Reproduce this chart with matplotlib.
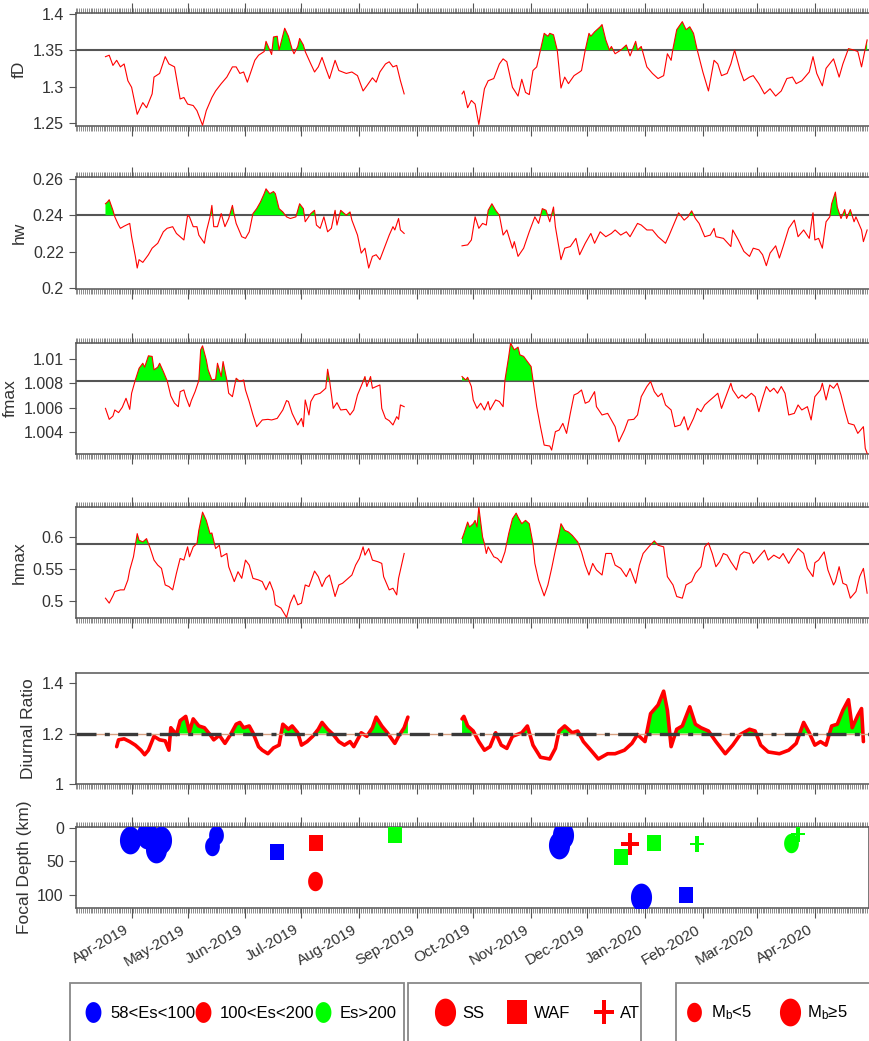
import numpy as np
import matplotlib
matplotlib.use('Agg')
import matplotlib.pyplot as plt
import matplotlib.dates as mdates
from matplotlib.path import Path
from matplotlib.lines import Line2D
from matplotlib.patches import Rectangle
from matplotlib.ticker import FuncFormatter

plt.rcParams['font.family'] = ['Liberation Sans', 'DejaVu Sans']
plt.rcParams['mathtext.default'] = 'regular'

# ---- data: days counted from 2019-04-01 ----
fd_d1 = [-14,-12,-10,-8,-6,-4,-2,0,3,6,8,11,12,15,18,20,23,26,28,30,33,35,38,40,43,45,48,51,54,56,58,60,62,66,68,71,72,74,
         75,76,78,79,82,84,86,87,89,90,92,93,96,98,100,102,104,106,109,111,115,118,121,124,126,129,131,133,136,138,140,142,144,146]
fd_v1 = [1.341,1.343,1.329,1.336,1.327,1.331,1.308,1.299,1.262,1.278,1.271,1.290,1.313,1.318,1.341,1.331,1.327,1.283,
         1.285,1.276,1.274,1.267,1.247,1.267,1.285,1.294,1.304,1.313,1.327,1.327,1.318,1.320,1.306,1.336,1.343,1.348,1.362,1.350,
         1.344,1.368,1.369,1.350,1.380,1.369,1.351,1.345,1.355,1.366,1.357,1.348,1.331,1.320,1.327,1.340,1.325,1.311,1.336,1.322,
         1.318,1.320,1.315,1.294,1.301,1.312,1.306,1.320,1.331,1.334,1.327,1.329,1.308,1.290]
fd_d2 = [177,178,180,182,184,186,189,191,194,197,199,201,204,207,209,211,213,215,217,219,221,223,224,226,228,230,232,234,237,240,
         241,243,245,246,248,251,252,254,256,257,259,262,265,267,270,271,273,276,279,282,285,287,289,290,292,295,297,299,301,303,
         306,309,312,314,316,319,321,323,326,328,331,333,336,339,342,345,348,351,354,356,359,363,365,367,370,372,376,379,381,384,
         387,389,391,393,394]
fd_v2 = [1.290,1.294,1.271,1.281,1.276,1.248,1.297,1.308,1.311,1.331,1.338,1.334,1.299,1.287,1.310,1.292,1.289,1.322,1.327,1.350,
         1.373,1.369,1.373,1.371,1.350,1.298,1.313,1.304,1.315,1.320,1.322,1.350,1.373,1.369,1.375,1.382,1.385,1.364,1.350,1.355,
         1.345,1.350,1.357,1.342,1.362,1.350,1.355,1.327,1.318,1.311,1.315,1.345,1.336,1.352,1.378,1.389,1.378,1.382,1.373,1.350,
         1.320,1.294,1.336,1.331,1.315,1.318,1.331,1.350,1.322,1.308,1.313,1.315,1.304,1.290,1.297,1.287,1.294,1.311,1.313,1.304,
         1.308,1.320,1.341,1.318,1.301,1.325,1.338,1.313,1.331,1.352,1.350,1.348,1.327,1.352,1.364]

hw_d1 = [-14,-13,-12,-10,-9,-7,-6,-4,-1,0,2,3,4,6,9,11,14,17,19,22,24,27,28,30,31,33,35,36,39,40,42,43,44,46,48,50,52,54,55,56,
         59,61,63,65,67,69,71,72,74,76,77,79,81,83,85,88,90,92,93,96,98,99,101,103,105,107,109,110,112,115,117,118,121,123,125,
         127,129,131,133,135,138,140,141,143,144,146]
hw_v1 = [0.2463,0.2472,0.2485,0.2427,0.2391,0.2346,0.2328,0.2340,0.2355,0.2282,0.2174,0.2110,0.2156,0.2141,0.2183,0.2219,0.2246,
         0.2309,0.2328,0.2337,0.2300,0.2273,0.2264,0.2400,0.2391,0.2337,0.2337,0.2291,0.2246,0.2309,0.2391,0.2454,0.2337,0.2337,
         0.2409,0.2337,0.2382,0.2454,0.2400,0.2355,0.2282,0.2273,0.2309,0.2409,0.2436,0.2472,0.2518,0.2545,0.2518,0.2530,0.2518,
         0.2436,0.2418,0.2391,0.2382,0.2391,0.2463,0.2436,0.2364,0.2409,0.2427,0.2346,0.2328,0.2391,0.2309,0.2328,0.2427,0.2346,
         0.2427,0.2400,0.2418,0.2373,0.2291,0.2192,0.2219,0.2110,0.2174,0.2183,0.2156,0.2210,0.2291,0.2337,0.2319,0.2382,0.2319,0.2300]
hw_d2 = [177,180,182,184,186,188,190,191,193,195,197,199,201,204,205,207,210,213,216,218,220,222,224,226,227,230,232,235,238,240,
         243,246,248,251,254,257,259,262,265,267,271,273,276,279,282,286,288,291,293,296,298,300,302,304,307,310,312,313,317,321,
         322,325,328,331,333,336,338,340,342,345,347,349,352,355,357,360,363,365,366,368,370,372,374,375,377,378,380,382,383,385,
         387,388,391,392,394]
hw_v2 = [0.2232,0.2237,0.2264,0.2391,0.2328,0.2355,0.2346,0.2427,0.2463,0.2427,0.2400,0.2291,0.2319,0.2219,0.2255,0.2174,0.2219,
         0.2309,0.2391,0.2355,0.2436,0.2427,0.2364,0.2445,0.2337,0.2156,0.2219,0.2228,0.2273,0.2183,0.2246,0.2300,0.2246,0.2309,
         0.2282,0.2300,0.2319,0.2291,0.2309,0.2282,0.2355,0.2346,0.2319,0.2319,0.2282,0.2246,0.2291,0.2364,0.2413,0.2373,0.2391,
         0.2424,0.2382,0.2355,0.2282,0.2291,0.2328,0.2282,0.2273,0.2228,0.2319,0.2264,0.2201,0.2174,0.2219,0.2210,0.2183,0.2123,
         0.2192,0.2232,0.2165,0.2228,0.2328,0.2373,0.2282,0.2319,0.2273,0.2413,0.2264,0.2273,0.2219,0.2364,0.2391,0.2463,0.2527,
         0.2445,0.2382,0.2431,0.2382,0.2431,0.2364,0.2391,0.2319,0.2255,0.2319]

fm_d1 = [-14,-12,-10,-9,-7,-5,-3,-1,0,2,4,6,7,9,11,12,14,15,17,19,21,23,25,26,28,29,31,32,34,36,37,38,40,41,43,45,46,48,49,51,
         52,54,56,58,60,61,63,65,67,70,73,75,78,81,83,84,86,89,91,92,93,95,96,98,101,103,104,105,106,108,110,112,115,117,119,121,
         124,125,126,128,129,131,133,134,136,138,140,142,143,144,146]
fm_v1 = [1.00594,1.00504,1.00531,1.00581,1.00559,1.00603,1.00677,1.00586,1.00718,1.00827,1.00923,1.00964,1.00932,1.01025,1.01020,
         1.00910,1.00932,1.00964,1.00896,1.00822,1.00696,1.00636,1.00608,1.00731,1.00745,1.00690,1.00608,1.00658,1.00731,1.00822,
         1.01074,1.01107,1.00992,1.00910,1.00827,1.00833,1.00964,1.00855,1.00978,1.00827,1.00718,1.00690,1.00841,1.00814,1.00827,
         1.00745,1.00649,1.00540,1.00444,1.00499,1.00504,1.00499,1.00512,1.00581,1.00658,1.00650,1.00553,1.00458,1.00512,1.00444,
         1.00663,1.00540,1.00650,1.00704,1.00718,1.00745,1.00759,1.00915,1.00827,1.00594,1.00641,1.00581,1.00586,1.00540,1.00581,
         1.00704,1.00814,1.00855,1.00773,1.00855,1.00759,1.00773,1.00786,1.00594,1.00512,1.00493,1.00458,1.00526,1.00504,1.00622,1.00608]
fm_d2 = [177,179,180,182,183,185,187,189,191,192,195,197,199,200,202,203,205,207,208,210,212,214,215,217,219,221,224,225,227,229,
         231,233,235,237,239,241,243,245,248,249,252,255,257,259,261,264,266,269,271,273,276,278,280,282,284,286,289,291,294,296,
         298,301,303,305,307,309,312,314,316,319,321,322,325,327,329,332,334,336,338,340,342,344,346,348,350,352,355,357,359,362,
         364,366,369,370,372,374,376,378,380,382,384,387,389,392,393,394]
fm_v2 = [1.00855,1.00827,1.00849,1.00773,1.00663,1.00594,1.00636,1.00581,1.00650,1.00581,1.00663,1.00650,1.00608,1.00827,1.01019,
         1.01129,1.01074,1.01096,1.01033,1.01020,1.00978,1.00937,1.00827,1.00608,1.00444,1.00293,1.00285,1.00252,1.00403,1.00416,
         1.00471,1.00389,1.00553,1.00704,1.00718,1.00745,1.00636,1.00650,1.00731,1.00608,1.00540,1.00553,1.00499,1.00444,1.00320,
         1.00416,1.00499,1.00504,1.00540,1.00690,1.00773,1.00814,1.00731,1.00690,1.00718,1.00622,1.00581,1.00444,1.00458,1.00526,
         1.00416,1.00512,1.00594,1.00567,1.00622,1.00650,1.00690,1.00718,1.00594,1.00718,1.00800,1.00745,1.00677,1.00704,1.00677,
         1.00718,1.00690,1.00567,1.00677,1.00773,1.00731,1.00759,1.00718,1.00773,1.00718,1.00540,1.00553,1.00622,1.00581,1.00608,
         1.00499,1.00690,1.00745,1.00800,1.00663,1.00786,1.00759,1.00800,1.00704,1.00581,1.00471,1.00458,1.00389,1.00444,1.00266,1.00225]

hm_d1 = [-14,-12,-10,-9,-6,-4,-2,-1,1,3,4,6,8,10,12,14,16,18,20,22,24,26,28,30,31,33,35,36,38,40,42,43,45,47,48,51,52,55,57,59,
         61,63,65,68,70,72,74,76,77,80,83,85,87,89,91,93,95,98,100,102,104,106,109,111,113,116,118,120,122,124,125,127,129,132,
         134,135,138,140,142,143,146]
hm_v1 = [0.5051,0.4975,0.5087,0.5153,0.5179,0.5179,0.5332,0.5485,0.5689,0.6046,0.5944,0.5918,0.5969,0.5816,0.5638,0.5561,0.5510,
         0.5255,0.5230,0.5179,0.5434,0.5663,0.5638,0.5842,0.5689,0.5842,0.5893,0.6097,0.6377,0.6250,0.6046,0.6056,0.5816,0.5867,
         0.5689,0.5740,0.5536,0.5306,0.5459,0.5357,0.5638,0.5561,0.5357,0.5332,0.5306,0.5179,0.5306,0.5153,0.4949,0.4898,0.4755,
         0.4975,0.5102,0.4949,0.4975,0.5255,0.5230,0.5469,0.5383,0.5230,0.5357,0.5408,0.5077,0.5255,0.5281,0.5357,0.5408,0.5561,
         0.5663,0.5842,0.5714,0.5816,0.5638,0.5612,0.5587,0.5383,0.5179,0.5204,0.5102,0.5357,0.5740]
hm_d2 = [177,178,180,181,183,184,185,186,188,189,190,191,194,196,198,200,202,204,206,207,209,211,213,215,216,218,221,223,225,227,
         229,230,232,234,236,239,241,243,245,247,249,252,254,257,259,262,265,267,270,272,274,277,280,282,285,287,290,292,295,297,
         300,302,305,307,309,311,313,315,317,319,321,324,326,328,331,333,336,339,341,344,347,349,352,354,357,360,362,365,366,368,
         371,373,376,377,379,381,383,385,388,390,392,394]
hm_v2 = [0.5969,0.6046,0.6224,0.6148,0.6199,0.6250,0.6148,0.6454,0.5995,0.5893,0.5740,0.5842,0.5689,0.5663,0.5597,0.5765,0.6046,
         0.6275,0.6362,0.6301,0.6199,0.6250,0.6199,0.5893,0.5587,0.5332,0.5087,0.5255,0.5510,0.5791,0.6046,0.6199,0.6097,0.6071,
         0.6020,0.5918,0.5765,0.5561,0.5408,0.5587,0.5485,0.5408,0.5740,0.5740,0.5561,0.5510,0.5383,0.5510,0.5281,0.5561,0.5740,
         0.5842,0.5934,0.5867,0.5842,0.5383,0.5255,0.5077,0.5051,0.5255,0.5306,0.5434,0.5536,0.5842,0.5903,0.5740,0.5536,0.5612,
         0.5740,0.5714,0.5612,0.5485,0.5714,0.5765,0.5740,0.5587,0.5689,0.5791,0.5638,0.5714,0.5663,0.5740,0.5587,0.5689,0.5816,
         0.5740,0.5510,0.5383,0.5597,0.5638,0.5765,0.5485,0.5255,0.5306,0.5536,0.5281,0.5255,0.5051,0.5153,0.5383,0.5510,0.5128]

dr_d1 = [-8,-7,-4,-1,2,5,7,9,12,15,18,20,21,24,26,29,31,33,36,39,42,44,47,50,53,56,58,60,63,65,68,70,73,76,79,81,84,86,89,91,
         94,97,100,102,105,108,111,114,117,119,123,126,129,131,134,137,141,143,146,148]
dr_v1 = [1.148,1.175,1.179,1.168,1.154,1.134,1.116,1.134,1.189,1.175,1.171,1.134,1.223,1.196,1.251,1.268,1.207,1.258,1.230,1.223,
         1.196,1.175,1.193,1.161,1.196,1.237,1.244,1.223,1.230,1.203,1.148,1.134,1.120,1.143,1.154,1.237,1.217,1.230,1.203,1.154,
         1.168,1.189,1.217,1.244,1.217,1.196,1.168,1.154,1.168,1.148,1.203,1.189,1.223,1.265,1.230,1.203,1.161,1.189,1.223,1.265]
dr_d2 = [177,178,180,183,186,189,192,195,198,201,204,209,212,215,219,224,227,229,232,236,239,242,246,250,255,259,264,268,271,275,
         278,282,285,287,289,292,295,299,302,305,309,313,318,322,326,331,334,337,341,347,352,356,360,363,366,369,372,375,378,381,
         384,386,389,391,392]
dr_v2 = [1.258,1.268,1.230,1.210,1.168,1.134,1.148,1.203,1.154,1.141,1.189,1.203,1.230,1.154,1.106,1.099,1.141,1.210,1.230,1.203,
         1.210,1.168,1.134,1.099,1.120,1.120,1.134,1.161,1.196,1.168,1.279,1.313,1.368,1.292,1.148,1.217,1.230,1.306,1.237,1.223,
         1.210,1.168,1.120,1.154,1.196,1.217,1.210,1.154,1.127,1.120,1.134,1.161,1.244,1.203,1.154,1.168,1.154,1.230,1.237,1.292,
         1.334,1.223,1.272,1.299,1.168]

# earthquakes
ev_dates = ['2019-03-31','2019-04-09','2019-04-14','2019-04-17','2019-05-14','2019-05-16','2019-06-18','2019-07-08',
            '2019-07-09','2019-08-20','2019-11-16','2019-11-18','2019-12-19','2019-12-24','2019-12-30','2020-01-06',
            '2020-01-23','2020-01-29','2020-03-19','2020-03-23']
ev_depth = [18, 10, 31, 18, 27, 10, 35, 80, 22, 10, 25, 10, 43, 23, 104, 22, 100, 24, 22, 8]
ev_es = ['58-100','58-100','58-100','58-100','58-100','58-100','58-100','100-200','100-200','>200','58-100','58-100',
         '>200','100-200','58-100','>200','58-100','>200','>200','>200']
ev_type = ['SS','SS','SS','SS','SS','SS','WAF','SS','WAF','WAF','SS','SS','WAF','AT','SS','WAF','WAF','AT','SS','AT']
ev_mb5 = [True, True, True, True, False, False, False, False, False, False, True, True, False, True, True, False,
          False, False, False, False]

thresholds = {'fD': 1.35, 'hw': 0.24, 'fmax': 1.00822, 'hmax': 0.589, 'dr': 1.2}

RED, GREEN, BLUE = '#ff0000', '#00ff00', '#0000ff'
es_color = {'58-100': BLUE, '100-200': RED, '>200': GREEN}

base = np.datetime64('2019-04-01')


def to_x(days):
    return mdates.date2num(base + np.array(days).astype('timedelta64[D]'))


# markers, slightly taller than wide like the original
t = np.linspace(0, 2 * np.pi, 64)
oval = Path(np.column_stack([0.76 * np.cos(t), np.sin(t)]), closed=True)
square = Path([(-0.88, -1), (0.88, -1), (0.88, 1), (-0.88, 1), (-0.88, -1)], closed=True)
a, th, tv = 0.85, 0.2, 0.19
plus = Path([(-th, 1), (th, 1), (th, tv), (a, tv), (a, -tv), (th, -tv), (th, -1), (-th, -1),
             (-th, -tv), (-a, -tv), (-a, tv), (-th, tv), (-th, 1)], closed=True)
shape = {'SS': oval, 'WAF': square, 'AT': plus}
shape_scale = {'SS': 1.0, 'WAF': 0.85, 'AT': 0.8}

W, H = 869, 1041
fig = plt.figure(figsize=(W / 100, H / 100), dpi=100)

L, Wd = 0.087, 0.913
ax1 = fig.add_axes([L, 0.879, Wd, 0.1086])
ax2 = fig.add_axes([L, 0.7224, Wd, 0.1076])
ax3 = fig.add_axes([L, 0.5639, Wd, 0.1066])
ax4 = fig.add_axes([L, 0.4063, Wd, 0.1066])
ax5 = fig.add_axes([L, 0.2469, Wd, 0.1066])
ax6 = fig.add_axes([L, 0.1278, Wd, 0.0778])

xlim = mdates.date2num(np.array(['2019-03-02', '2020-04-30'], dtype='datetime64[D]'))
fmt_g = FuncFormatter(lambda v, p: '%g' % round(v, 6))


def style_axis(ax, top_ticks=True, labels=False):
    ax.set_xlim(xlim)
    ax.xaxis.set_major_locator(mdates.MonthLocator())
    ax.xaxis.set_minor_locator(mdates.DayLocator())
    ax.xaxis.set_major_formatter(mdates.DateFormatter('%b-%Y'))
    ax.tick_params(axis='x', which='major', direction='out', length=7, width=0.8, color='#555',
                   top=top_ticks, bottom=True, labelbottom=labels, labelsize=11)
    ax.tick_params(axis='x', which='minor', direction='out', length=3.5, width=0.6, color='#777',
                   top=top_ticks, bottom=True)
    ax.tick_params(axis='y', direction='out', length=5, width=0.8, color='#555', labelsize=11.5,
                   labelcolor='#333')
    ax.yaxis.set_major_formatter(fmt_g)
    for s in ax.spines.values():
        s.set_color('#555')
        s.set_linewidth(1.1)
    ax.spines['right'].set_visible(False)


def draw_series(ax, segs, thr, lw):
    ax.axhline(thr, color='#555', lw=1.5, zorder=1)
    for d, v in segs:
        x = to_x(d)
        y = np.array(v)
        ax.fill_between(x, y, thr, where=y > thr, interpolate=True, color=GREEN, lw=0, zorder=2)
        ax.plot(x, y, color=RED, lw=lw, zorder=3)


panels = [
    (ax1, 'fD', [(fd_d1, fd_v1), (fd_d2, fd_v2)], thresholds['fD'], (1.246, 1.401), [1.25, 1.3, 1.35, 1.4]),
    (ax2, 'hw', [(hw_d1, hw_v1), (hw_d2, hw_v2)], thresholds['hw'], (0.1995, 0.261), [0.2, 0.22, 0.24, 0.26]),
    (ax3, 'fmax', [(fm_d1, fm_v1), (fm_d2, fm_v2)], thresholds['fmax'], (1.0022, 1.0113), [1.004, 1.006, 1.008, 1.01]),
    (ax4, 'hmax', [(hm_d1, hm_v1), (hm_d2, hm_v2)], thresholds['hmax'], (0.4745, 0.6455), [0.5, 0.55, 0.6]),
]
for ax, lab, segs, thr, yl, yt in panels:
    draw_series(ax, segs, thr, 0.8)
    ax.set_ylim(yl)
    ax.set_yticks(yt)
    ax.set_ylabel(lab, fontsize=12.5, color='#333')
    style_axis(ax)

# diurnal ratio
for d, v in [(dr_d1, dr_v1), (dr_d2, dr_v2)]:
    x = to_x(d)
    y = np.array(v)
    ax5.fill_between(x, y, thresholds['dr'], where=y > thresholds['dr'], interpolate=True, color=GREEN, lw=0, zorder=2)
    ax5.plot(x, y, color=RED, lw=2.6, zorder=3, solid_capstyle='round')
ax5.axhline(thresholds['dr'], color='#d8a080', lw=1.0, zorder=4)
ax5.axhline(thresholds['dr'], color='#3a3a3a', lw=2.4, ls=(0, (6, 2.5, 1.5, 2.5)), zorder=4)
ax5.set_ylim(1.0, 1.44)
ax5.set_yticks([1, 1.2, 1.4])
ax5.set_ylabel('Diurnal Ratio', fontsize=12.5, color='#333')
style_axis(ax5, top_ticks=False)

# focal depth
for dt, dep, es, tp, big in zip(ev_dates, ev_depth, ev_es, ev_type, ev_mb5):
    ms = (20 if big else 14) * shape_scale[tp]
    ax6.plot(mdates.date2num(np.datetime64(dt)), dep, ls='none', marker=shape[tp], ms=ms,
             mfc=es_color[es], mec=es_color[es], mew=0, zorder=3)
ax6.set_ylim(120, -2)
ax6.set_yticks([0, 50, 100])
ax6.set_ylabel('Focal Depth (km)', fontsize=12.5, color='#333')
style_axis(ax6, labels=True)
ax6.spines['right'].set_visible(True)
for lbl in ax6.get_xticklabels():
    lbl.set_rotation(30)
    lbl.set_ha('right')
    lbl.set_color('#333')

# legends
def hnd(path, color, ms):
    return Line2D([], [], ls='none', marker=path, ms=ms, mfc=color, mec=color, mew=0)

yc = 1 - 1013 / H
box_top = 1 - 983 / H
for x0, wbox in [(70, 334), (408, 233), (676, 210)]:
    fig.add_artist(Rectangle((x0 / W, -0.01), wbox / W, box_top + 0.01, transform=fig.transFigure,
                             fill=False, ec='#888', lw=1.3))

common = dict(loc='center left', frameon=False, fontsize=12, handlelength=1.0, handletextpad=0.5,
              borderpad=0, borderaxespad=0)
fig.legend([hnd(oval, BLUE, 15), hnd(oval, RED, 15), hnd(oval, GREEN, 15)],
           ['58<Es<100', '100<Es<200', 'Es>200'], ncol=3, columnspacing=0.0,
           bbox_to_anchor=(85 / W, yc), **common)
fig.legend([hnd(oval, RED, 20), hnd(square, RED, 17), hnd(plus, RED, 17)],
           ['SS', 'WAF', 'AT'], ncol=3, columnspacing=1.5,
           bbox_to_anchor=(437 / W, yc), **common)
fig.legend([hnd(oval, RED, 14), hnd(oval, RED, 20)],
           ['M$_b$<5', 'M$_b$≥5'], ncol=2, columnspacing=1.8,
           bbox_to_anchor=(686 / W, yc), **common)

fig.savefig('out.png', dpi=100)
